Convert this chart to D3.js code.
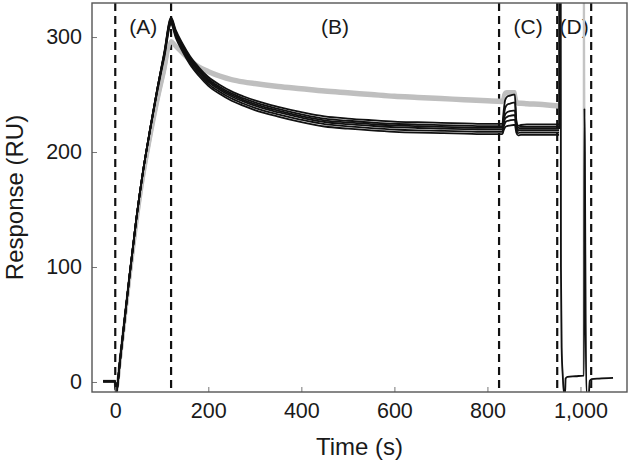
<!DOCTYPE html>
<html>
<head>
<meta charset="utf-8">
<script src="https://cdn.jsdelivr.net/npm/d3@7"></script>
<style>
  body { margin: 0; background: #fff; }
  text { font-family: "Liberation Sans", Arial, sans-serif; fill: #1a1a1a; }
</style>
</head>
<body>
<div id="chart"></div>
<script>
// Sample times (s) shared by the baseline / association / dissociation / (C) traces
const tMain = [-26, -2, 0, 1.5, 4, 10, 20, 30, 45, 60, 75, 90, 105, 120,
  130, 145, 160, 180, 200, 225, 250, 275, 300, 350, 400, 450, 500, 550, 600, 650, 700, 750, 800,
  832, 835, 838, 842, 848, 856, 859, 862, 866, 872, 885, 910, 954];

// black sensorgrams (RU)
const black1 = [0.5, 0.5, 0.5, -9, -5, 18, 54, 90, 141, 184, 220, 254, 286, 317,
  306, 294, 283.7, 273.5, 265.2, 258.3, 252.7, 248.5, 244.9, 239.3, 234.7, 231, 229.1, 227.7, 226.5, 225.9, 225.4, 225, 224.5,
  224.5, 236, 245, 248, 249, 250, 250, 228, 223, 223.5, 224, 224, 224];
const black2 = [0.5, 0.5, 0.5, -9, -5, 18, 54, 90, 141, 184, 220, 254, 285, 316,
  304.8, 292.6, 282.3, 272.1, 263.6, 256.6, 251, 246.8, 243.1, 237.5, 232.8, 229, 227.2, 225.8, 224.6, 223.9, 223.4, 223, 222.5,
  222.5, 231, 238, 241, 242, 243, 243, 226, 221.5, 222, 222, 222, 222];
const black3 = [0.5, 0.5, 0.5, -9, -5, 18, 54, 90, 141, 184, 220, 254, 284.5, 315,
  303.7, 291.5, 281.2, 270.8, 262.4, 255.3, 249.7, 245.4, 241.7, 236, 231.3, 227.6, 225.7, 224.3, 223.1, 222.4, 221.9, 221.5, 221,
  221, 228, 232.5, 234.5, 235.5, 236, 236, 224, 220, 220.5, 220.5, 220.5, 220.5];
const black4 = [0.5, 0.5, 0.5, -9, -5, 18, 54, 90, 141, 184, 220, 254, 284, 314,
  302.7, 290.4, 280, 269.6, 261.1, 254, 248.3, 244.1, 240.3, 234.6, 229.9, 226.1, 224.2, 222.8, 221.6, 220.9, 220.4, 220, 219.5,
  219.5, 225, 229, 230.5, 231.5, 232, 232, 222, 218.5, 219, 219, 219, 219];
const black5 = [0.5, 0.5, 0.5, -9, -5, 18, 54, 90, 141, 184, 220, 253, 283, 312.5,
  301.1, 288.8, 278.3, 267.9, 259.3, 252.2, 246.5, 242.2, 238.4, 232.7, 228, 224.2, 222.3, 220.8, 219.6, 218.9, 218.5, 218, 217.5,
  217.5, 222, 225.5, 227, 227.5, 228, 228, 220, 216.5, 217, 217, 217, 217];
const black6 = [0.5, 0.5, 0.5, -9, -5, 18, 54, 90, 141, 184, 219, 252, 281.5, 311,
  299.5, 287.1, 276.6, 266.1, 257.5, 250.4, 244.6, 240.3, 236.5, 230.8, 226, 222.2, 220.3, 218.8, 217.6, 216.9, 216.5, 216, 215.5,
  215.5, 219, 221.5, 222.5, 223, 223.5, 223.5, 217, 214.5, 215, 215, 215, 215];

// grey sensorgrams (RU)
const grey1 = [0.5, 0.5, 0.5, -9, -5, 17, 52, 87, 136, 178, 212, 243, 270, 297,
  293, 287, 281, 275, 271, 267, 264, 262, 260.5, 258, 256, 254, 252.5, 251, 249.5, 248.5, 247.5, 246.5, 245.5,
  245, 250, 252, 252.5, 252.5, 252.5, 252.5, 246, 243.5, 243.5, 243, 242.5, 241];
const grey2 = [0.5, 0.5, 0.5, -9, -5, 16.5, 51, 86, 134.5, 176.5, 210.5, 241.5, 268.5, 295,
  291, 285, 279, 273, 269, 265, 262, 260, 258.5, 256, 254, 252, 250.5, 249, 247.5, 246.5, 245.5, 244.5, 243.5,
  243, 247.5, 250, 250.5, 250.5, 250.5, 250.5, 244, 241.5, 241.5, 241, 240.5, 239];

// Regeneration phase (D)
const tRegen = [954, 955, 957, 958, 959.5, 962, 964.5, 967, 968, 972, 990, 1006, 1006.8, 1007.6,
  1008.5, 1009.5, 1011, 1013, 1018, 1020, 1024, 1040, 1070];
const blackRegen = [220, 600, 600, 100, 30, 5, -10, -10, 3, 4.5, 5, 5.5, 5.5, 5.5,
  238, 200, 60, -10, -10, 1, 2.5, 3, 3.5];
const greyRegen = [241, 600, 600, 100, 30, 5, -10, -10, 3, 4.5, 5, 5.5, 600, 600,
  300, 200, 60, -10, -10, 1, 2.5, 3, 3.5];

// phase boundaries (dashed lines) and labels
const phaseBounds = [0, 120, 825, 950, 1023];
const phaseLabels = ["(A)", "(B)", "(C)", "(D)"];

const xTicks = [0, 200, 400, 600, 800, 1000];
const yTicks = [0, 100, 200, 300];

const margin = { top: 3, right: 3, bottom: 75, left: 92 };
const width = 630 - margin.left - margin.right;
const height = 467 - margin.top - margin.bottom;

const svg = d3.select("#chart")
    .append("svg")
    .attr("width", width + margin.left + margin.right)
    .attr("height", height + margin.top + margin.bottom)
    .append("g")
    .attr("transform", `translate(${margin.left}, ${margin.top})`);

const x = d3.scaleLinear().domain([-50, 1100]).range([0, width]);
const y = d3.scaleLinear().domain([-8.7, 329.6]).range([height, 0]);

svg.append("clipPath")
    .attr("id", "plot-clip")
    .append("rect")
    .attr("width", width)
    .attr("height", height);

// dashed phase boundaries
svg.selectAll(".phase")
    .data(phaseBounds)
    .enter()
    .append("line")
    .attr("class", "phase")
    .attr("x1", d => x(d))
    .attr("x2", d => x(d))
    .attr("y1", 0)
    .attr("y2", height)
    .attr("stroke", "#111")
    .attr("stroke-width", 2.2)
    .attr("stroke-dasharray", "8,5");

svg.selectAll(".phase-label")
    .data(phaseLabels)
    .enter()
    .append("text")
    .attr("class", "phase-label")
    .attr("x", (d, i) => x((phaseBounds[i] + phaseBounds[i + 1]) / 2))
    .attr("y", 31)
    .attr("text-anchor", "middle")
    .style("font-size", "21px")
    .text(d => d);

const line = d3.line()
    .x(d => x(d[0]))
    .y(d => y(d[1]))
    .curve(d3.curveMonotoneX);

const traces = svg.append("g").attr("clip-path", "url(#plot-clip)");

const greyRuns = [grey1, grey2].map(v => tMain.map((t, i) => [t, v[i]]));
const blackRuns = [black1, black2, black3, black4, black5, black6].map(v => tMain.map((t, i) => [t, v[i]]));

traces.selectAll(".grey")
    .data(greyRuns)
    .enter()
    .append("path")
    .attr("class", "grey")
    .attr("d", line)
    .attr("fill", "none")
    .attr("stroke", "#bfbfbf")
    .attr("stroke-width", 3.2);

traces.append("path")
    .datum(tRegen.map((t, i) => [t, greyRegen[i]]))
    .attr("d", line)
    .attr("fill", "none")
    .attr("stroke", "#c4c4c4")
    .attr("stroke-width", 1.4);

traces.selectAll(".black")
    .data(blackRuns.concat([tRegen.map((t, i) => [t, blackRegen[i]])]))
    .enter()
    .append("path")
    .attr("class", "black")
    .attr("d", line)
    .attr("fill", "none")
    .attr("stroke", "#111")
    .attr("stroke-width", 1.8);

// axes with inward ticks
svg.append("g")
    .attr("transform", `translate(0,${height})`)
    .call(d3.axisBottom(x).tickValues(xTicks).tickFormat(d3.format(","))
        .tickSizeInner(-5).tickSizeOuter(0).tickPadding(11))
    .call(g => g.select(".domain").remove())
    .call(g => g.selectAll("line").attr("stroke", "#777"))
    .call(g => g.selectAll("text").style("font-size", "21.5px"));

svg.append("g")
    .call(d3.axisLeft(y).tickValues(yTicks)
        .tickSizeInner(-5).tickSizeOuter(0).tickPadding(10))
    .call(g => g.select(".domain").remove())
    .call(g => g.selectAll("line").attr("stroke", "#777"))
    .call(g => g.selectAll("text").style("font-size", "21.5px"));

// frame
svg.append("rect")
    .attr("width", width)
    .attr("height", height)
    .attr("fill", "none")
    .attr("stroke", "#555")
    .attr("stroke-width", 1.4);

svg.append("text")
    .attr("x", width / 2)
    .attr("y", height + 63)
    .attr("text-anchor", "middle")
    .style("font-size", "24px")
    .text("Time (s)");

svg.append("text")
    .attr("transform", "rotate(-90)")
    .attr("x", -height / 2)
    .attr("y", -69)
    .attr("text-anchor", "middle")
    .style("font-size", "24px")
    .text("Response (RU)");
</script>
</body>
</html>
